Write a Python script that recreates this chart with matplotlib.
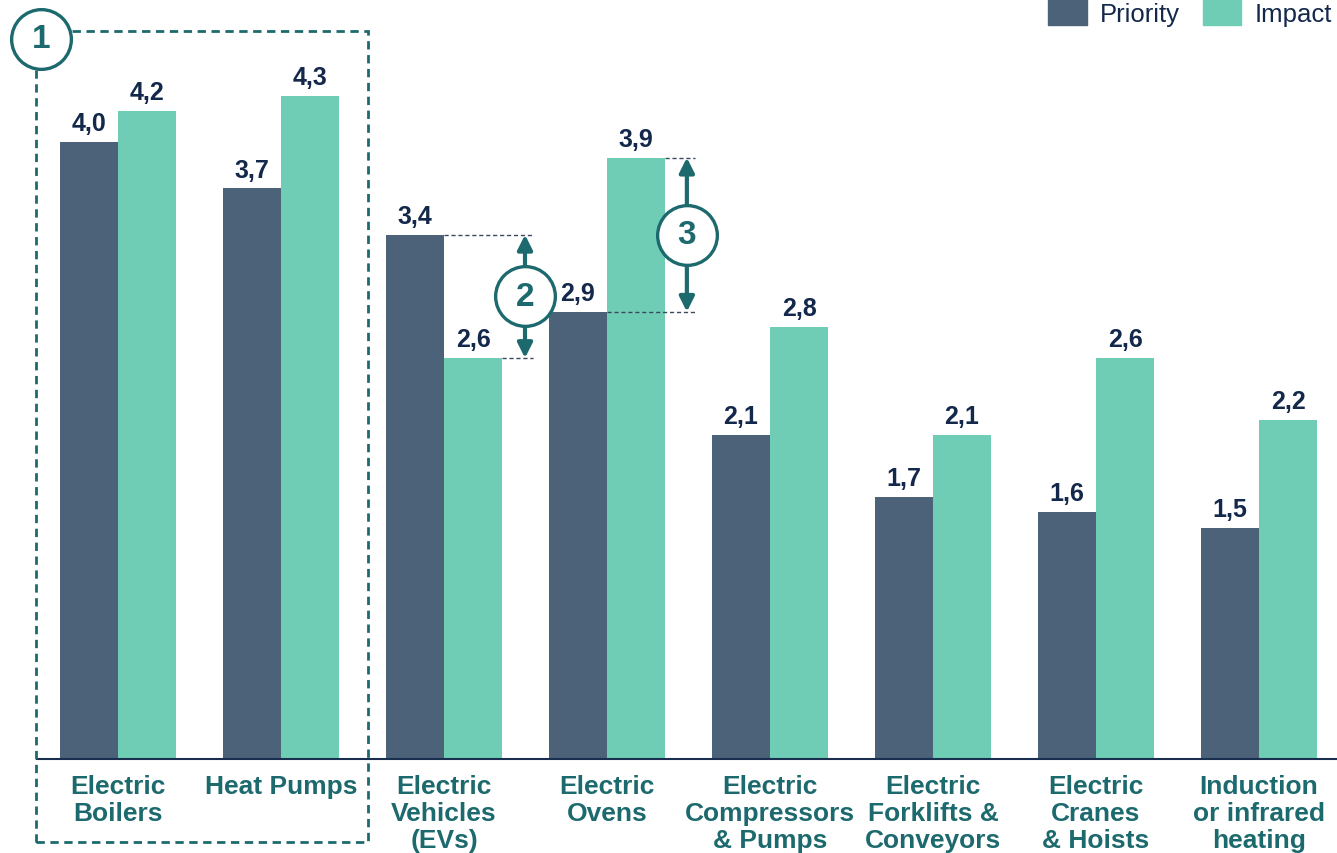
import matplotlib.pyplot as plt
from matplotlib.patches import Rectangle, Patch
import numpy as np

plt.rcParams['font.family'] = ['Liberation Sans', 'DejaVu Sans']

categories = ["Electric\nBoilers", "Heat Pumps", "Electric\nVehicles\n(EVs)", "Electric\nOvens",
              "Electric\nCompressors\n& Pumps", "Electric\nForklifts &\nConveyors",
              "Electric\nCranes\n& Hoists", "Induction\nor infrared\nheating"]
priority = [4.0, 3.7, 3.4, 2.9, 2.1, 1.7, 1.6, 1.5]
impact = [4.2, 4.3, 2.6, 3.9, 2.8, 2.1, 2.6, 2.2]

c_priority = '#4c6279'
c_impact = '#70cdb5'
c_teal = '#1d6a6e'
c_navy = '#13284a'

fig = plt.figure(figsize=(13.37, 8.54), dpi=100)
ax = fig.add_axes([36.5 / 1337, 94 / 854, 1304 / 1337, 755.6 / 854])

x = np.arange(len(categories))
w = 0.356
b1 = ax.bar(x - w / 2, priority, w, color=c_priority, zorder=2)
b2 = ax.bar(x + w / 2, impact, w, color=c_impact, zorder=2)

for bars, vals in [(b1, priority), (b2, impact)]:
    for bar, v in zip(bars, vals):
        ax.text(bar.get_x() + bar.get_width() / 2, v + 0.045, f'{v:.1f}'.replace('.', ','),
                ha='center', va='bottom', fontsize=18, fontweight='bold', color=c_navy)

ax.set_xlim(-0.5, len(categories) - 0.5)
ax.set_ylim(0, 4.9)
ax.set_xticks(x)
ax.set_xticklabels(categories, fontsize=19, fontweight='bold', color=c_teal,
                   linespacing=1.16, va='top')
ax.tick_params(axis='x', length=0, pad=11)
ax.set_yticks([])
for s in ['top', 'right', 'left']:
    ax.spines[s].set_visible(False)
ax.spines['bottom'].set_color('#1a2f4f')
ax.spines['bottom'].set_linewidth(1.5)

# dashed frame around the first two categories
frame = Rectangle((-0.503, -0.538), 2.037, 5.26, fill=False, edgecolor=c_teal,
                  linestyle=(0, (3, 2)), linewidth=2, clip_on=False, zorder=3)
ax.add_patch(frame)


def badge(xc, yc, label):
    ax.plot(xc, yc, 'o', markersize=43, markerfacecolor='white', markeredgecolor=c_teal,
            markeredgewidth=2.4, clip_on=False, zorder=6)
    ax.text(xc, yc, label, ha='center', va='center', fontsize=24, fontweight='bold',
            color=c_teal, zorder=7)


def gap(xa, y_lo, y_hi, x_lo, x_hi, label):
    for yv, x0 in [(y_lo, x_lo), (y_hi, x_hi)]:
        ax.plot([x0, xa + 0.05], [yv, yv], color='#3a4a5e', linestyle=(0, (3, 2)),
                linewidth=1, zorder=4)
    ax.annotate('', xy=(xa, y_hi), xytext=(xa, y_lo),
                arrowprops=dict(arrowstyle='<|-|>', color=c_teal, lw=3,
                                mutation_scale=22, shrinkA=0, shrinkB=0), zorder=5)
    badge(xa, (y_lo + y_hi) / 2, label)


gap(2.497, impact[2], priority[2], 2 + w, 2.0, '2')
gap(3.49, priority[3], impact[3], 3.0, 3 + w, '3')
badge(-0.47, 4.67, '1')

handles = [Patch(color=c_priority, label='Priority'), Patch(color=c_impact, label='Impact')]
fig.legend(handles=handles, loc='upper right', bbox_to_anchor=(0.997, 1.0), ncol=2,
           frameon=False, fontsize=18.5, handlelength=1.5, handleheight=1.1,
           handletextpad=0.5, columnspacing=0.9, borderaxespad=0, borderpad=0.05,
           labelcolor=c_navy)

plt.savefig('out.png', dpi=100)
